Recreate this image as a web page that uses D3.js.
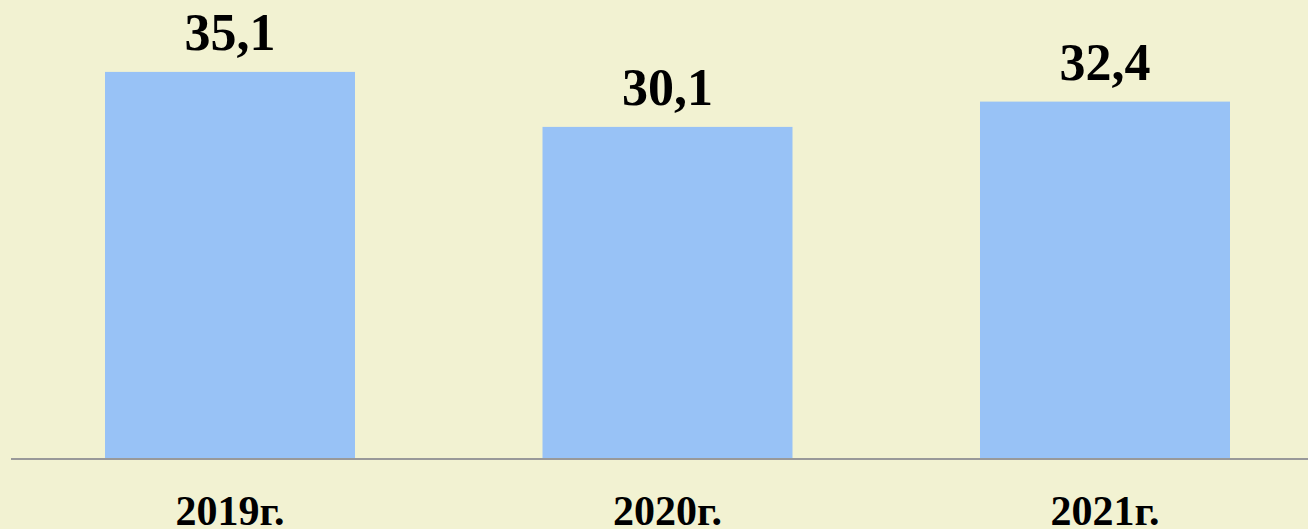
<!DOCTYPE html>
<html>
<head>
<meta charset="utf-8">
<script src="https://cdn.jsdelivr.net/npm/d3@7"></script>
<style>
  body { margin: 0; background: #f2f2d2; }
  svg { display: block; }
</style>
</head>
<body>
<svg></svg>
<script>
const years = ["2019г.", "2020г.", "2021г."];
const values = [35.1, 30.1, 32.4];
const valueLabels = ["35,1", "30,1", "32,4"];

var w = 1308;
var h = 529;
const baseY = 458;

let svg = d3.select("svg")
  .attr("width", w)
  .attr("height", h);

svg.append("rect")
  .attr("width", w).attr("height", h)
  .attr("fill", "#f2f2d2");

// 11 px per unit, starting at zero
let yScale = d3.scaleLinear()
  .domain([0, 40])
  .range([baseY, baseY - 440]);

let xScale = d3.scaleBand()
  .domain(years)
  .range([11.25, 1323.75])
  .paddingInner(0.4286)
  .paddingOuter(0.2143);

// bars
svg.selectAll("rect.bar")
  .data(values)
  .enter()
  .append("rect")
  .attr("class", "bar")
  .attr("x", (d, i) => xScale(years[i]))
  .attr("y", d => yScale(d))
  .attr("width", xScale.bandwidth())
  .attr("height", d => baseY - yScale(d))
  .attr("fill", "#98c2f6");

// axis line
svg.append("line")
  .attr("x1", 11).attr("x2", w)
  .attr("y1", baseY + 1).attr("y2", baseY + 1)
  .attr("stroke", "#999999")
  .attr("stroke-width", 2);

// value labels
svg.selectAll("text.val")
  .data(values)
  .enter()
  .append("text")
  .attr("class", "val")
  .attr("x", (d, i) => xScale(years[i]) + xScale.bandwidth() / 2)
  .attr("y", d => yScale(d) - 22)
  .attr("text-anchor", "middle")
  .attr("font-family", "'Liberation Serif', 'Times New Roman', serif")
  .attr("font-weight", "bold")
  .attr("font-size", 52)
  .attr("fill", "#000")
  .text((d, i) => valueLabels[i]);

// year labels
svg.selectAll("text.year")
  .data(years)
  .enter()
  .append("text")
  .attr("class", "year")
  .attr("x", d => xScale(d) + xScale.bandwidth() / 2)
  .attr("y", 525)
  .attr("text-anchor", "middle")
  .attr("font-family", "'Liberation Serif', 'Times New Roman', serif")
  .attr("font-weight", "bold")
  .attr("font-size", 42)
  .attr("fill", "#000")
  .text(d => d);
</script>
</body>
</html>
